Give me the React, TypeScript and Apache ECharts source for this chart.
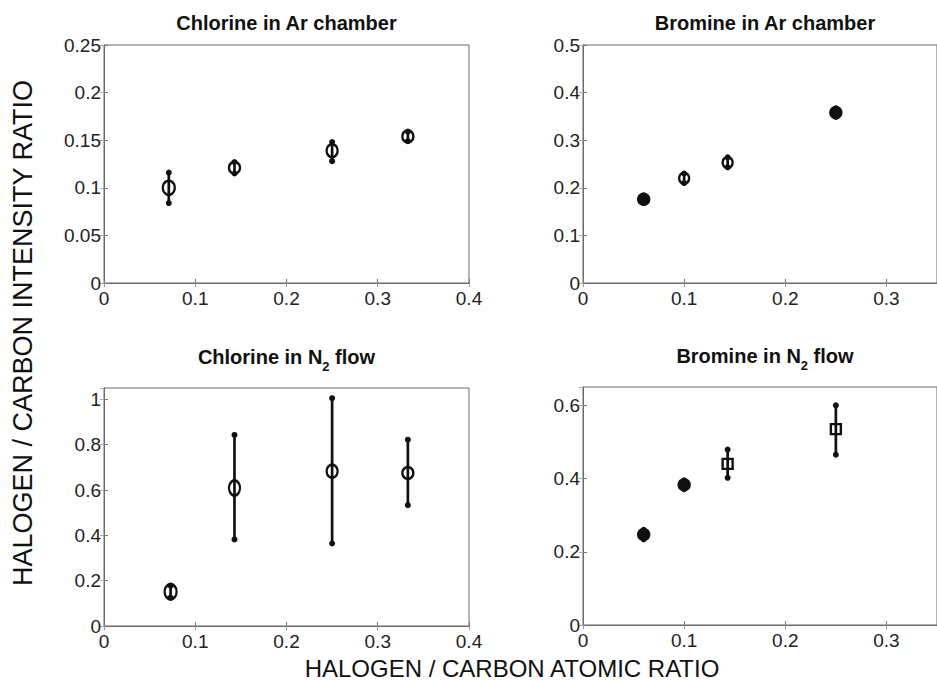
import React, { useEffect, useRef } from "react";
import * as echarts from "echarts";

// ---- data ----
const xTickInterval = 0.1;

// Chlorine in Ar chamber
const clArX = [0.071, 0.143, 0.25, 0.333];
const clArY = [0.1, 0.121, 0.139, 0.154];
const clArLo = [0.084, 0.115, 0.128, 0.149];
const clArHi = [0.116, 0.127, 0.148, 0.159];

// Bromine in Ar chamber
const brArX = [0.06, 0.1, 0.143, 0.25];
const brArY = [0.176, 0.22, 0.253, 0.358];
const brArLo = [0.168, 0.21, 0.243, 0.349];
const brArHi = [0.184, 0.23, 0.264, 0.367];

// Chlorine in N2 flow
const clN2X = [0.073, 0.143, 0.25, 0.333];
const clN2Y = [0.151, 0.609, 0.683, 0.675];
const clN2Lo = [0.125, 0.382, 0.364, 0.533];
const clN2Hi = [0.178, 0.843, 1.005, 0.822];

// Bromine in N2 flow
const brN2X = [0.06, 0.1, 0.143, 0.25];
const brN2Y = [0.247, 0.383, 0.44, 0.535];
const brN2Lo = [0.234, 0.371, 0.402, 0.465];
const brN2Hi = [0.26, 0.395, 0.479, 0.6];

const titles = [
  "{m|Chlorine in Ar chamber}",
  "{m|Bromine in Ar chamber}",
  "{m|Chlorine in N}{s|2}{m| flow}",
  "{m|Bromine in N}{s|2}{m| flow}",
];
const xTitle = "HALOGEN / CARBON ATOMIC RATIO";
const yTitle = "HALOGEN / CARBON INTENSITY RATIO";

const FONT = '"Liberation Sans", Arial, Helvetica, sans-serif';
const INK = "#111";

type Panel = {
  x: number[];
  y: number[];
  lo: number[];
  hi: number[];
  xMax: number;
  yMax: number;
  yInterval: number;
  grid: { left: number; top: number; width: number; height: number };
  titleTop: number;
  shapes: string[];
  filled: boolean[];
  sizes: number[][];
};

const panels: Panel[] = [
  {
    x: clArX, y: clArY, lo: clArLo, hi: clArHi,
    xMax: 0.4, yMax: 0.25, yInterval: 0.05,
    grid: { left: 104, top: 45, width: 365, height: 238 },
    titleTop: 13,
    shapes: ["circle", "circle", "circle", "circle"],
    filled: [false, false, false, false],
    sizes: [[12, 14], [11, 12], [11, 13], [11, 12]],
  },
  {
    x: brArX, y: brArY, lo: brArLo, hi: brArHi,
    xMax: 0.35, yMax: 0.5, yInterval: 0.1,
    grid: { left: 583, top: 45, width: 364, height: 238 },
    titleTop: 13,
    shapes: ["circle", "circle", "circle", "circle"],
    filled: [true, false, false, true],
    sizes: [[11, 11], [10, 11], [10, 11], [11, 11]],
  },
  {
    x: clN2X, y: clN2Y, lo: clN2Lo, hi: clN2Hi,
    xMax: 0.4, yMax: 1.05, yInterval: 0.2,
    grid: { left: 104, top: 388, width: 365, height: 238 },
    titleTop: 347,
    shapes: ["circle", "circle", "circle", "circle"],
    filled: [false, false, false, false],
    sizes: [[12, 15], [11, 15], [11, 13], [11, 12]],
  },
  {
    x: brN2X, y: brN2Y, lo: brN2Lo, hi: brN2Hi,
    xMax: 0.35, yMax: 0.65, yInterval: 0.2,
    grid: { left: 583, top: 387, width: 364, height: 238 },
    titleTop: 346,
    shapes: ["circle", "circle", "rect", "rect"],
    filled: [true, true, false, false],
    sizes: [[11, 11], [11, 11], [10, 10], [10, 10]],
  },
];

function buildOption() {
  const grid: any[] = [];
  const xAxis: any[] = [];
  const yAxis: any[] = [];
  const series: any[] = [];
  const graphic: any[] = [];

  panels.forEach((p, i) => {
    grid.push({
      ...p.grid,
      show: true,
      borderColor: "#6a6a6a",
      borderWidth: 1,
      backgroundColor: "#fff",
    });
    const labelStyle = { fontFamily: FONT, fontSize: 19, color: "#222" };
    xAxis.push({
      gridIndex: i,
      type: "value",
      min: 0,
      max: p.xMax,
      interval: xTickInterval,
      position: "bottom",
      axisLine: { show: true, lineStyle: { color: "#6a6a6a", width: 1 } },
      axisTick: { show: true, inside: true, length: 4, lineStyle: { color: "#777" } },
      axisLabel: { ...labelStyle, margin: 6, showMaxLabel: p.xMax === 0.4 },
      splitLine: { show: false },
    });
    xAxis.push({
      gridIndex: i,
      type: "value",
      min: 0,
      max: p.xMax,
      interval: xTickInterval,
      position: "top",
      axisLine: { show: false },
      axisTick: { show: true, inside: true, length: 4, lineStyle: { color: "#999" } },
      axisLabel: { show: false },
      splitLine: { show: false },
    });
    const yExact = Math.abs(p.yMax / p.yInterval - Math.round(p.yMax / p.yInterval)) < 1e-6;
    yAxis.push({
      gridIndex: i,
      type: "value",
      min: 0,
      max: p.yMax,
      interval: p.yInterval,
      position: "left",
      axisLine: { show: true, lineStyle: { color: "#6a6a6a", width: 1 } },
      axisTick: { show: true, inside: true, length: 4, lineStyle: { color: "#777" } },
      axisLabel: { ...labelStyle, margin: 3, showMaxLabel: yExact },
      splitLine: { show: false },
    });
    yAxis.push({
      gridIndex: i,
      type: "value",
      min: 0,
      max: p.yMax,
      interval: p.yInterval,
      position: "right",
      axisLine: { show: false },
      axisTick: { show: true, inside: true, length: 4, lineStyle: { color: "#aaa" } },
      axisLabel: { show: false },
      splitLine: { show: false },
    });

    const errData = p.x.map((xv, k) => [xv, p.lo[k], p.hi[k]]);
    series.push({
      type: "custom",
      xAxisIndex: i * 2,
      yAxisIndex: i * 2,
      data: errData,
      encode: { x: 0, y: [1, 2] },
      silent: true,
      renderItem: (params: any, api: any) => {
        const xv = api.value(0);
        const a = api.coord([xv, api.value(1)]);
        const b = api.coord([xv, api.value(2)]);
        return {
          type: "group",
          children: [
            {
              type: "line",
              shape: { x1: a[0], y1: a[1], x2: b[0], y2: b[1] },
              style: { stroke: INK, lineWidth: 2.7 },
            },
            { type: "circle", shape: { cx: a[0], cy: a[1], r: 3 }, style: { fill: INK } },
            { type: "circle", shape: { cx: b[0], cy: b[1], r: 3 }, style: { fill: INK } },
          ],
        };
      },
    });

    series.push({
      type: "scatter",
      xAxisIndex: i * 2,
      yAxisIndex: i * 2,
      data: p.x.map((xv, k) => [xv, p.y[k]]),
      symbol: (_v: any, params: any) => p.shapes[params.dataIndex],
      symbolSize: (_v: any, params: any) => p.sizes[params.dataIndex],
      itemStyle: {
        color: (params: any) => (p.filled[params.dataIndex] ? INK : "rgba(255,255,255,0)"),
        borderColor: INK,
        borderWidth: 2.4,
        opacity: 1,
      },
      z: 5,
    });

    graphic.push({
      type: "text",
      x: p.grid.left + p.grid.width / 2,
      y: p.titleTop,
      style: {
        text: titles[i],
        align: "center",
        verticalAlign: "top",
        rich: {
          m: {
            fontFamily: FONT,
            fontWeight: "bold",
            fontSize: 20,
            fill: INK,
            verticalAlign: "top",
            lineHeight: 22,
          },
          s: {
            fontFamily: FONT,
            fontWeight: "bold",
            fontSize: 13,
            fill: INK,
            verticalAlign: "top",
            lineHeight: 13,
            padding: [13, 0, 0, 0],
          },
        },
      },
    });
  });

  graphic.push({
    type: "text",
    x: 512,
    y: 668,
    style: {
      text: xTitle,
      align: "center",
      verticalAlign: "middle",
      font: `24px ${FONT}`,
      lineHeight: 18,
      fill: INK,
    },
  });
  graphic.push({
    type: "text",
    x: 23,
    y: 333,
    rotation: Math.PI / 2,
    style: {
      text: yTitle,
      align: "center",
      verticalAlign: "middle",
      font: `27px ${FONT}`,
      lineHeight: 22,
      fill: INK,
    },
  });

  return {
    animation: false,
    backgroundColor: "#fff",
    grid,
    xAxis,
    yAxis,
    series,
    graphic,
  };
}

export default function App() {
  const ref = useRef<HTMLDivElement>(null);
  useEffect(() => {
    if (!ref.current) return;
    const chart = echarts.init(ref.current, undefined, { renderer: "svg" });
    chart.setOption(buildOption() as any);
    return () => chart.dispose();
  }, []);
  return (
    <div
      ref={ref}
      style={{ position: "absolute", left: 0, top: 0, width: 937, height: 682, background: "#fff" }}
    />
  );
}
